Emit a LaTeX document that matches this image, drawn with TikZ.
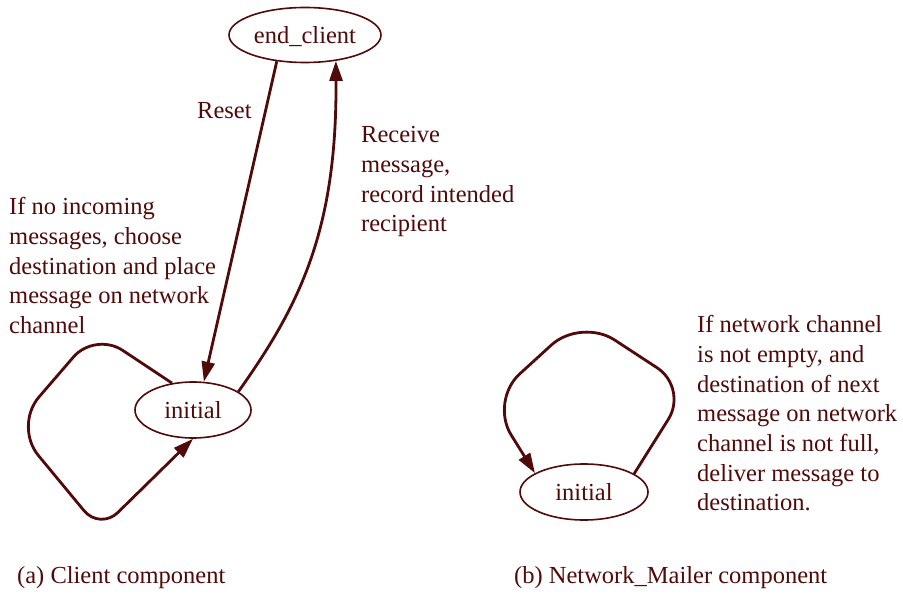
\documentclass[tikz,border=0pt]{standalone}
\usepackage{fontspec}
\setmainfont{Liberation Serif}
\usetikzlibrary{shapes.geometric,arrows.meta}
\definecolor{maroon}{HTML}{500A0A}
\begin{document}
\begin{tikzpicture}[x=1pt,y=-1pt,
  every node/.style={font=\fontsize{24.5}{29.7}\selectfont, text=maroon},
  state/.style={ellipse, draw=maroon, line width=1.6pt, inner sep=0pt, text height=17pt, text depth=0pt},
  edge/.style={draw=maroon, line width=2.8pt, -{Triangle[length=20pt,width=13pt]}},
  lbl/.style={align=left, inner sep=0pt, anchor=north west}]
\useasboundingbox (0,0) rectangle (903,596);
\node[state, minimum width=152pt, minimum height=55pt] (ec) at (305,35) {end\_client};
\node[state, minimum width=116pt, minimum height=56pt] (ci) at (193,410) {initial};
\node[state, minimum width=128pt, minimum height=56pt] (mi) at (584,492) {initial};
% edges
\draw[edge] (ec.223) -- (ci.69);
\draw[edge] (ci.22) .. controls (300,305) and (337,230) .. (ec.320);
\draw[edge, rounded corners=33pt] (ci.128) -- (95,332) [rounded corners=38pt] -- (14,426) [rounded corners=25pt] -- (100,530) -- (ci.270);
\draw[edge, rounded corners=37pt] (mi.20) -- (688,388) [rounded corners=40pt] -- (581,318) -- (490,401) -- (mi.159);
% labels
\node[lbl] (lreset) at (197,102.3) {Reset};
\node[lbl] (lrecv) at (361,126.3) {Receive\\message,\\record intended\\recipient};
\node[lbl] (lloop) at (9,197.3) {If no incoming\\messages, choose\\destination and place\\message on network\\channel};
\node[lbl] (lmail) at (697,315.3) {If network channel\\is not empty, and\\destination of next\\message on network\\channel is not full,\\deliver message to\\destination.};
\node[inner sep=0pt, anchor=base west] (capa) at (17,583) {(a) Client component};
\node[inner sep=0pt, anchor=base west] (capb) at (514,583) {(b) Network\_Mailer component};
\end{tikzpicture}
\end{document}
